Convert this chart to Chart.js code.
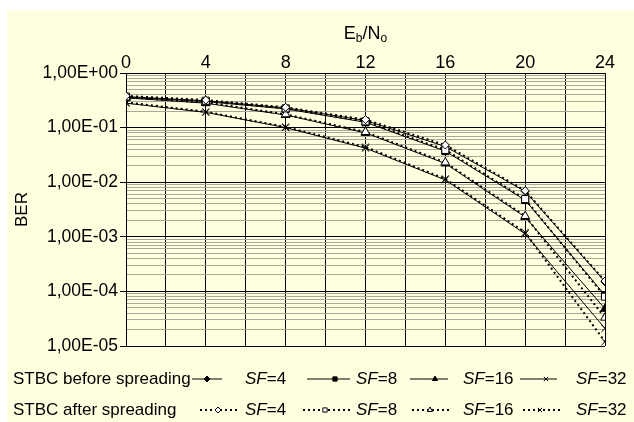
<!DOCTYPE html>
<html>
<head>
<meta charset="utf-8">
<script src="https://cdn.jsdelivr.net/npm/chart.js@4/dist/chart.umd.min.js"></script>
<style>
html, body { margin: 0; padding: 0; background: #fff; }
</style>
</head>
<body>
<canvas id="berChart" width="634" height="422"></canvas>
<script>
"use strict";
// Eb/No values (x axis)
var ebno = [0, 4, 8, 12, 16, 20, 24];

// STBC before spreading
var sf4Before = [0.37, 0.31, 0.23, 0.135, 0.045, 0.0068, 1.5e-4];
var sf8Before = [0.36, 0.30, 0.22, 0.125, 0.037, 0.0047, 8.5e-5];
var sf16Before = [0.35, 0.28, 0.17, 0.080, 0.022, 0.0023, 4.8e-5];
var sf32Before = [0.28, 0.19, 0.10, 0.042, 0.011, 0.00113, 2.1e-5];

// STBC after spreading
var sf4After = [0.38, 0.32, 0.235, 0.14, 0.048, 0.0070, 1.55e-4];
var sf8After = [0.37, 0.31, 0.225, 0.13, 0.039, 0.0049, 8.0e-5];
var sf16After = [0.36, 0.29, 0.175, 0.083, 0.023, 0.0024, 3.3e-5];
var sf32After = [0.29, 0.195, 0.103, 0.044, 0.0115, 0.0012, 1.2e-5];

var sfLabels = ["4", "8", "16", "32"];
var rowLabels = ["STBC before spreading", "STBC after spreading"];
var xTickLabels = [0, 4, 8, 12, 16, 20, 24];

var FONT = "'Liberation Sans', Arial, sans-serif";
var markers = ["rectRot", "rect", "triangle", "crossRot"];
var markerSize = [4, 5, 5, 5];

function pts(ys) {
    var out = [];
    for (var i = 0; i < ebno.length; i++) {
        out.push({ x: ebno[i], y: ys[i] });
    }
    return out;
}

function isDecade(v) {
    var l = Math.log10(v);
    return Math.abs(l - Math.round(l)) < 1e-6;
}

function sciLabel(v) {
    var e = Math.round(Math.log10(v));
    var a = Math.abs(e);
    return "1,00E" + (e < 0 ? "-" : "+") + (a < 10 ? "0" : "") + a;
}

function makeSet(label, ys, k, after) {
    return {
        label: label,
        data: pts(ys),
        borderColor: "#000",
        borderWidth: after ? 2 : 1,
        borderDash: after ? [2, 3] : [],
        pointStyle: markers[k],
        pointRadius: markerSize[k],
        pointBorderWidth: 1,
        pointBorderColor: "#000",
        pointBackgroundColor: after ? "#fff" : "#000",
        tension: 0,
        fill: false,
        order: after ? 0 : 1,
    };
}

var beforeSets = [sf4Before, sf8Before, sf16Before, sf32Before];
var afterSets = [sf4After, sf8After, sf16After, sf32After];
var datasets = [];
for (var k = 0; k < 4; k++) {
    datasets.push(makeSet("SF=" + sfLabels[k] + " before", beforeSets[k], k, false));
}
for (var k2 = 0; k2 < 4; k2++) {
    datasets.push(makeSet("SF=" + sfLabels[k2] + " after", afterSets[k2], k2, true));
}

// yellow panel behind everything
var panelBg = {
    id: "panelBg",
    beforeDraw: function (chart) {
        var c = chart.ctx;
        c.save();
        c.fillStyle = "#fff";
        c.fillRect(0, 0, chart.width, chart.height);
        c.fillStyle = "#ffffe0";
        c.fillRect(7, 10, chart.width - 7, chart.height - 10);
        c.restore();
    },
};

// x title with subscripts + custom two-row legend
var extras = {
    id: "extras",
    afterDraw: function (chart) {
        var c = chart.ctx;
        var area = chart.chartArea;
        c.save();
        c.fillStyle = "#000";
        c.textBaseline = "alphabetic";

        // E_b/N_o
        var big = "18px " + FONT, small = "12px " + FONT;
        c.font = big; var wE = c.measureText("E").width; var wN = c.measureText("/N").width;
        c.font = small; var wb = c.measureText("b").width; var wo = c.measureText("o").width;
        var total = wE + wb + wN + wo;
        var tx = (area.left + area.right) / 2 - total / 2;
        var ty = 39;
        c.font = big; c.fillText("E", tx, ty); tx += wE;
        c.font = small; c.fillText("b", tx, ty + 3); tx += wb;
        c.font = big; c.fillText("/N", tx, ty); tx += wN;
        c.font = small; c.fillText("o", tx, ty + 3);

        // legend
        var rowsY = [379, 410];
        var lines = [
            [[192, 222], [307, 350], [410, 448], [520, 557]],
            [[200, 237], [303, 350], [412, 452], [523, 560]],
        ];
        var marks = [[207, 335, 435, 546], [218, 325, 430, 540]];
        var textX = [245, 356, 463, 576];
        c.textBaseline = "middle";
        for (var r = 0; r < 2; r++) {
            var y = rowsY[r];
            c.font = "17px " + FONT;
            c.fillStyle = "#000";
            c.fillText(rowLabels[r], 13, y);
            for (var i = 0; i < 4; i++) {
                var ds = chart.data.datasets[r * 4 + i];
                c.strokeStyle = "#000";
                c.lineWidth = ds.borderWidth;
                c.setLineDash(ds.borderDash);
                c.beginPath();
                c.moveTo(lines[r][i][0], y);
                c.lineTo(lines[r][i][1], y);
                c.stroke();
                c.setLineDash([]);
                c.lineWidth = 1;
                c.fillStyle = ds.pointBackgroundColor;
                Chart.helpers.drawPoint(c, {
                    pointStyle: ds.pointStyle,
                    radius: 3,
                    rotation: 0,
                    borderWidth: 1,
                }, marks[r][i], y);
                c.fillStyle = "#000";
                c.font = "italic 17px " + FONT;
                c.fillText("SF", textX[i], y);
                var w = c.measureText("SF").width;
                c.font = "17px " + FONT;
                c.fillText("=" + sfLabels[i], textX[i] + w, y);
            }
        }
        c.restore();
    },
};

var ctx = document.getElementById("berChart").getContext("2d");
var berChart = new Chart(ctx, {
    type: "line",
    data: { datasets: datasets },
    plugins: [panelBg, extras],
    options: {
        responsive: false,
        animation: false,
        layout: { padding: { left: 0, top: 0, right: 29, bottom: 76 } },
        plugins: {
            legend: { display: false },
            tooltip: { enabled: false },
        },
        scales: {
            x: {
                type: "linear",
                position: "top",
                min: 0,
                max: 24,
                ticks: {
                    stepSize: 2,
                    autoSkip: false,
                    maxRotation: 0,
                    padding: -1,
                    color: "#000",
                    font: { family: FONT, size: 18 },
                    callback: function (v) {
                        return xTickLabels.indexOf(v) >= 0 ? String(v) : "";
                    },
                },
                grid: { color: "#000", lineWidth: 1, drawTicks: false },
                border: { color: "#000", width: 1 },
                afterFit: function (s) { s.height = 73; },
            },
            y: {
                type: "logarithmic",
                min: 1e-5,
                max: 1,
                title: {
                    display: true,
                    text: "BER",
                    color: "#000",
                    font: { family: FONT, size: 17 },
                    padding: { top: 12, bottom: 0 },
                },
                afterBuildTicks: function (s) {
                    var t = [];
                    for (var e = -5; e <= 0; e++) {
                        for (var m = 1; m <= 9; m++) {
                            var v = m * Math.pow(10, e);
                            if (v <= 1.0000001) t.push({ value: v });
                        }
                    }
                    s.ticks = t;
                },
                ticks: {
                    autoSkip: false,
                    padding: 2,
                    color: "#000",
                    font: { family: FONT, size: 17.5 },
                    callback: function (v) {
                        return isDecade(v) ? sciLabel(v) : "";
                    },
                },
                grid: {
                    lineWidth: 1,
                    tickLength: 6,
                    color: function (c) {
                        return c.tick && isDecade(c.tick.value) ? "#000" : "#a8a898";
                    },
                    tickColor: function (c) {
                        return c.tick && isDecade(c.tick.value) ? "#000" : "rgba(0,0,0,0)";
                    },
                },
                border: { color: "#000", width: 1 },
                afterFit: function (s) { s.width = 126; },
            },
        },
    },
});
</script>
</body>
</html>
